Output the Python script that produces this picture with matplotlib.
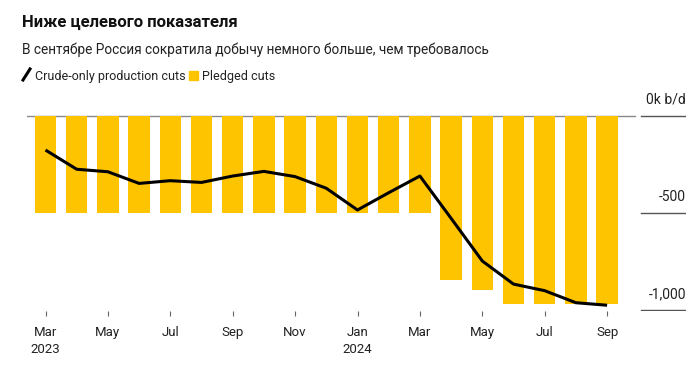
import matplotlib.pyplot as plt
from matplotlib.lines import Line2D
from matplotlib.patches import Rectangle

plt.rcParams['font.family'] = ['Roboto', 'DejaVu Sans']

months = ["Mar\n2023", "Apr", "May", "Jun", "Jul", "Aug", "Sep", "Oct", "Nov", "Dec",
          "Jan\n2024", "Feb", "Mar", "Apr", "May", "Jun", "Jul", "Aug", "Sep"]
pledged = [-500] * 13 + [-848, -898, -970, -970, -970, -970]
crude_only = [-177, -276, -289, -349, -335, -344, -311, -287, -314, -374,
              -486, -397, -311, -529, -749, -868, -902, -964, -977]
yticks = [0, -500, -1000]
ytick_labels = ["0k b/d", "-500", "-1,000"]

W, H = 700, 376
fig = plt.figure(figsize=(W / 100, H / 100), dpi=100)

# axes placed in pixel units
left_px, right_px, top_px, bottom_px = 26.7, 686, 100, 311
ax = fig.add_axes([left_px / W, 1 - bottom_px / H, (right_px - left_px) / W, (bottom_px - top_px) / H])

x = list(range(len(months)))
ax.bar(x, pledged, width=0.68, color="#FFC400", zorder=2)
ax.plot(x, crude_only, color="black", lw=2.2, zorder=3, solid_capstyle="butt")

x0 = (left_px - 45.5) / 31.2
x1 = (right_px - 45.5) / 31.2
ax.set_xlim(x0, x1)
ax.set_ylim((115.7 - bottom_px) * 500 / 97, (115.7 - top_px) * 500 / 97)

# zero baseline across the plot
ax.plot([x0, len(months) - 0.1], [0, 0], color="#8a8a8a", lw=1, zorder=1)

# right-side value ticks: short line with label above
for v, lab in zip(yticks, ytick_labels):
    ax.plot([len(months) + 0.1, x1], [v, v], color="#555555", lw=1, zorder=1)
    ax.annotate(lab, xy=(x1, v), xytext=(0, 8.5), textcoords="offset points",
                ha="right", va="baseline", fontsize=10, color="#222222")

tick_pos = x[::2]
ax.set_xticks(tick_pos)
ax.set_xticklabels(months[::2], fontsize=9.5, color="#222222", linespacing=1.4)
ax.tick_params(axis="x", length=3.6, width=0.8, color="#666666", pad=7.5)
ax.set_yticks([])
for s in ax.spines.values():
    s.set_visible(False)

# title, subtitle
fig.text(22 / W, 1 - 27 / H, "Ниже целевого показателя", fontsize=12, fontweight="bold",
         va="baseline", ha="left", color="#111111")
fig.text(22 / W, 1 - 54.3 / H, "В сентябре Россия сократила добычу немного больше, чем требовалось",
         fontsize=9.8, va="baseline", ha="left", color="#222222")

# legend
fig.add_artist(Line2D([23 / W, 30 / W], [1 - 80 / H, 1 - 69 / H], color="black", lw=2.2))
fig.text(35 / W, 1 - 80 / H, "Crude-only production cuts", fontsize=9, va="baseline",
         ha="left", color="#222222")
fig.add_artist(Rectangle((189 / W, 1 - 80 / H), 9 / W, 9 / H, color="#FFC400",
                         transform=fig.transFigure))
fig.text(202 / W, 1 - 80 / H, "Pledged cuts", fontsize=9, va="baseline", ha="left",
         color="#222222")

fig.savefig("out.png", dpi=100)
